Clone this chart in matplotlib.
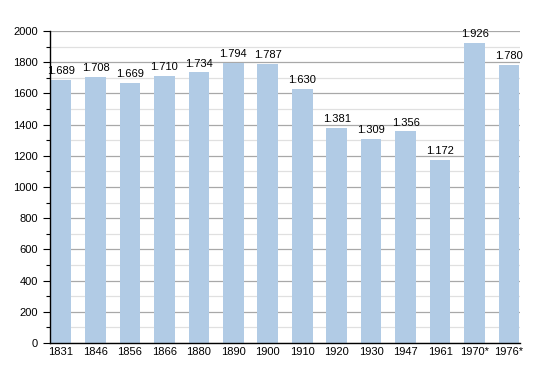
import matplotlib
matplotlib.use("Agg")
import matplotlib.pyplot as plt
from matplotlib.ticker import MultipleLocator

years = ["1831", "1846", "1856", "1866", "1880", "1890", "1900", "1910",
         "1920", "1930", "1947", "1961", "1970*", "1976*"]
population = [1689, 1708, 1669, 1710, 1734, 1794, 1787, 1630,
              1381, 1309, 1356, 1172, 1926, 1780]

plt.rcParams['font.family'] = ['Liberation Sans', 'DejaVu Sans']

fig = plt.figure(figsize=(5.5, 3.73), dpi=100)
ax = fig.add_axes([0.0909, 0.0804, 0.8546, 0.8365])

x = range(len(years))
ax.bar(x, population, width=0.6, color="#b1cbe5", zorder=2)

# labels on top of bars, dot as thousands separator
for i, v in enumerate(population):
    ax.text(i, v + 25, f"{v:,}".replace(",", "."), ha="center", va="bottom",
            fontsize=8, zorder=3)

ax.set_xlim(-0.32, len(years) - 0.68)
ax.set_ylim(0, 2000)
ax.yaxis.set_major_locator(MultipleLocator(200))
ax.yaxis.set_minor_locator(MultipleLocator(100))
ax.grid(axis="y", which="major", color="#a8a8a8", linewidth=0.9, zorder=0)
ax.grid(axis="y", which="minor", color="#e0e0e0", linewidth=0.9, zorder=0)
ax.set_axisbelow(True)

ax.set_xticks(list(x))
ax.set_xticklabels(years)
ax.tick_params(axis="x", length=0, pad=3, labelsize=8)
ax.tick_params(axis="y", which="major", length=5, width=0.8, labelsize=8)
ax.tick_params(axis="y", which="minor", length=3, width=0.8)

for s in ["top", "right"]:
    ax.spines[s].set_visible(False)
ax.spines["left"].set_linewidth(1)
ax.spines["bottom"].set_linewidth(1)

fig.savefig("out.png", dpi=100)
